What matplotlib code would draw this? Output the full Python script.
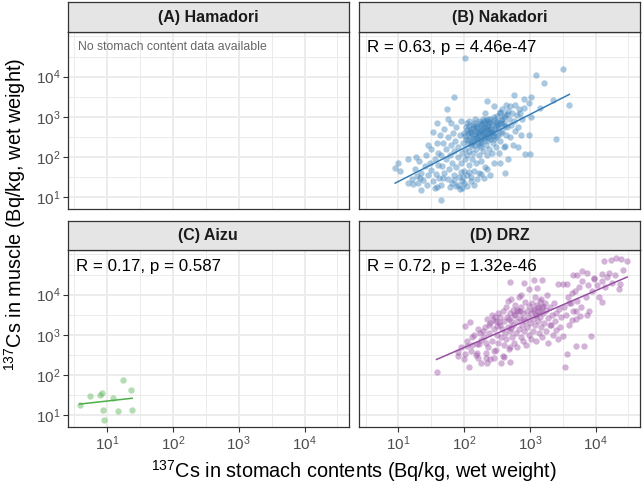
import numpy as np
import matplotlib
matplotlib.use('Agg')
import matplotlib.pyplot as plt
from matplotlib.ticker import FixedLocator, NullFormatter

plt.rcParams['font.family'] = ['Liberation Sans', 'DejaVu Sans']
plt.rcParams['mathtext.fontset'] = 'custom'
plt.rcParams['mathtext.rm'] = 'Liberation Sans'
plt.rcParams['mathtext.it'] = 'Liberation Sans:italic'
plt.rcParams['mathtext.bf'] = 'Liberation Sans:bold'

## DATA  (log10 Bq/kg wet weight: (stomach contents, muscle))
hamadori = []

aizu = [(0.585, 1.258), (0.747, 1.475), (0.898, 1.49), (0.929, 1.54), (0.934, 1.13),
        (0.955, 0.88), (1.095, 1.43), (1.17, 1.10), (1.24, 1.87), (1.364, 1.625),
        (1.383, 1.117)]

nakadori_outer = [(2.02, 4.46), (3.50, 4.18), (3.09, 4.03), (3.21, 3.83), (3.60, 3.29),
                  (3.35, 3.43), (3.01, 3.50), (2.91, 3.44), (2.76, 3.54), (2.98, 3.35),
                  (2.91, 3.21), (3.15, 3.21), (3.01, 3.00), (3.39, 2.45), (2.99, 2.54),
                  (3.00, 2.08), (2.92, 2.07), (2.82, 2.24), (2.62, 2.27), (2.62, 1.60),
                  (1.85, 3.50), (1.74, 3.20), (1.64, 0.93), (0.95, 1.72), (1.00, 1.84),
                  (1.03, 1.64), (1.15, 1.35), (1.15, 1.94), (1.59, 1.26), (1.97, 1.22),
                  (1.58, 2.85), (1.53, 2.63), (2.32, 3.10), (2.45, 3.26), (2.35, 3.39),
                  (2.55, 3.12), (2.65, 3.08)]

nakadori_left = [(1.20, 1.45), (1.25, 1.70), (1.28, 1.52), (1.30, 1.35), (1.32, 1.90),
                 (1.35, 1.60), (1.38, 1.42), (1.40, 1.78), (1.42, 2.05), (1.44, 1.30),
                 (1.45, 1.55), (1.48, 1.85), (1.50, 2.20), (1.50, 1.68), (1.52, 1.40),
                 (1.55, 1.95), (1.55, 1.22), (1.57, 1.58), (1.58, 2.35), (1.60, 1.80),
                 (1.60, 2.10), (1.62, 1.48), (1.22, 1.32), (1.27, 2.00), (1.35, 1.18),
                 (1.45, 2.30), (1.65, 1.30), (1.33, 1.48),
                 (1.63, 2.55), (1.65, 2.05), (1.66, 1.78), (1.68, 2.35), (1.70, 1.60),
                 (1.70, 2.70), (1.72, 1.95), (1.73, 2.20), (1.75, 1.45), (1.75, 2.50),
                 (1.77, 1.70), (1.78, 2.05), (1.80, 2.85), (1.80, 2.30), (1.81, 1.85),
                 (1.82, 1.35), (1.83, 2.60), (1.85, 1.55), (1.85, 2.15), (1.86, 2.40),
                 (1.88, 1.75), (1.88, 2.75), (1.90, 1.30), (1.90, 2.00), (1.91, 2.25),
                 (1.92, 1.50), (1.93, 2.55), (1.95, 1.85), (1.95, 2.90), (1.96, 1.40),
                 (1.97, 2.10), (1.98, 2.35), (1.99, 1.65), (2.00, 2.60), (1.87, 1.28),
                 (1.78, 1.25), (1.93, 1.20), (1.84, 1.42), (1.76, 2.95), (1.68, 1.48),
                 (2.00, 1.35), (2.05, 1.28), (2.10, 1.50), (2.15, 1.30), (1.98, 1.50),
                 (2.08, 1.62), (2.20, 1.45), (2.25, 1.58), (2.30, 1.48), (2.35, 1.70),
                 (1.95, 1.62)]

nakadori_core = [(2.01, 1.95), (2.02, 2.20), (2.03, 2.45), (2.03, 2.75), (2.04, 1.55),
                 (2.05, 2.05), (2.06, 2.35), (2.06, 2.60), (2.07, 1.80), (2.08, 2.90),
                 (2.08, 2.15), (2.09, 2.50), (2.10, 2.70), (2.10, 1.40), (2.11, 2.28),
                 (2.12, 1.95), (2.12, 2.55), (2.13, 2.80), (2.14, 2.10), (2.15, 2.40),
                 (2.15, 1.65), (2.16, 2.65), (2.17, 2.95), (2.18, 2.20), (2.18, 1.85),
                 (2.19, 2.50), (2.20, 2.75), (2.21, 2.35), (2.22, 2.05), (2.22, 2.60),
                 (2.23, 1.60), (2.24, 2.85), (2.25, 2.45), (2.25, 2.25), (2.26, 1.90),
                 (2.27, 2.68), (2.28, 2.55), (2.29, 2.15), (2.30, 2.90), (2.30, 2.40),
                 (2.31, 1.75), (2.32, 2.62), (2.33, 2.30), (2.34, 2.78), (2.35, 2.05),
                 (2.36, 2.50), (2.37, 2.95), (2.38, 2.20), (2.39, 2.70), (2.40, 1.55),
                 (2.40, 2.45), (2.41, 2.85), (2.42, 2.10), (2.43, 2.60), (2.44, 2.35),
                 (2.45, 3.00), (2.46, 1.85), (2.47, 2.72), (2.48, 2.50), (2.49, 2.25),
                 (2.50, 2.88), (2.05, 2.85), (2.14, 2.72), (2.26, 2.80), (2.35, 2.68),
                 (2.20, 2.62), (2.28, 2.72), (2.12, 2.38), (2.32, 2.52), (2.18, 2.48),
                 (2.40, 2.58), (2.24, 2.30),
                 (2.02, 2.52), (2.04, 2.68), (2.06, 2.42), (2.08, 2.78), (2.10, 2.32),
                 (2.11, 2.62), (2.13, 2.48), (2.15, 2.85), (2.16, 2.30), (2.17, 2.58),
                 (2.19, 2.72), (2.21, 2.45), (2.22, 2.90), (2.23, 2.55), (2.25, 2.68),
                 (2.26, 2.38), (2.27, 2.82), (2.29, 2.60), (2.30, 2.48), (2.31, 2.75),
                 (2.33, 2.92), (2.34, 2.58), (2.36, 2.82), (2.37, 2.42), (2.38, 2.65),
                 (2.40, 2.95), (2.41, 2.70), (2.43, 2.80), (2.44, 2.52), (2.46, 2.92),
                 (2.47, 2.62), (2.49, 2.78), (2.50, 3.02), (2.52, 2.72), (2.54, 2.85),
                 (2.56, 2.60), (2.58, 2.95), (2.60, 3.00), (2.62, 2.78), (2.45, 2.45),
                 (2.38, 2.88), (2.28, 2.95), (2.18, 2.78), (2.09, 2.62), (2.24, 2.62),
                 (2.34, 2.72), (2.42, 2.62), (2.48, 2.88), (2.57, 2.82), (2.32, 2.85)]

nakadori_right = [(2.51, 2.55), (2.52, 2.80), (2.53, 2.10), (2.54, 3.10), (2.55, 2.40),
                  (2.56, 2.93), (2.57, 2.65), (2.58, 3.20), (2.60, 2.25), (2.60, 2.85),
                  (2.62, 3.05), (2.63, 2.55), (2.65, 2.75), (2.66, 1.95), (2.67, 3.15),
                  (2.68, 2.95), (2.70, 2.50), (2.72, 2.80), (2.73, 3.10), (2.75, 2.30),
                  (2.76, 2.90), (2.78, 2.65), (2.80, 3.05), (2.82, 2.75), (2.84, 3.20),
                  (2.86, 2.55), (2.88, 2.95), (2.70, 3.27), (2.78, 3.30), (2.55, 1.85),
                  (2.85, 3.10), (2.64, 3.30)]

drz_outer = [(1.58, 2.08), (1.90, 2.48), (1.91, 2.56), (2.02, 2.53), (2.01, 3.21),
             (2.09, 3.33), (2.21, 3.14), (2.70, 4.31), (2.91, 4.29), (3.06, 4.36),
             (3.19, 4.36), (2.99, 4.14), (2.87, 4.00), (3.11, 4.17), (3.26, 3.98),
             (3.43, 4.27), (3.51, 4.27), (3.56, 4.27), (3.65, 4.50), (3.71, 4.50),
             (3.79, 4.58), (3.87, 4.54), (3.97, 4.42), (4.09, 4.52), (4.21, 4.54),
             (4.13, 4.83), (4.23, 4.86), (4.31, 4.92), (4.39, 4.89), (4.48, 4.84),
             (4.37, 4.27), (4.09, 3.82), (3.93, 2.96), (3.70, 2.73), (3.82, 2.71),
             (3.57, 2.52), (3.53, 2.21), (3.51, 2.98), (3.40, 3.13), (3.64, 3.38),
             (3.76, 3.46), (3.87, 3.50), (3.70, 3.58), (3.64, 4.04), (3.59, 3.79),
             (3.31, 3.25), (3.17, 3.88), (2.69, 2.69), (2.59, 2.46), (2.69, 2.33),
             (2.60, 2.44), (2.48, 2.63), (2.45, 2.42), (2.33, 2.42), (2.21, 2.42),
             (2.20, 2.54), (2.05, 2.71), (2.12, 2.75), (2.22, 2.77), (2.33, 2.79)]

drz_core = [(2.30, 2.95), (2.32, 3.20), (2.35, 3.40), (2.36, 2.70), (2.38, 3.05),
            (2.40, 3.30), (2.42, 2.85), (2.43, 3.50), (2.45, 3.15), (2.46, 2.60),
            (2.48, 3.35), (2.50, 3.00), (2.51, 3.55), (2.52, 2.80), (2.54, 3.25),
            (2.55, 3.45), (2.56, 2.95), (2.58, 3.15), (2.59, 3.60), (2.60, 2.75),
            (2.38, 3.25), (2.44, 3.38), (2.50, 3.22), (2.47, 3.45), (2.53, 3.32),
            (2.28, 3.10), (2.25, 2.88), (2.33, 2.55),
            (2.61, 3.35), (2.62, 3.05), (2.63, 3.70), (2.64, 2.90), (2.65, 3.45),
            (2.66, 3.20), (2.67, 3.85), (2.68, 2.65), (2.69, 3.55), (2.70, 3.10),
            (2.71, 3.35), (2.72, 3.90), (2.73, 2.95), (2.74, 3.62), (2.75, 3.25),
            (2.76, 2.80), (2.77, 3.48), (2.78, 3.75), (2.79, 3.05), (2.80, 3.35),
            (2.81, 2.70), (2.82, 3.60), (2.83, 3.15), (2.84, 3.95), (2.85, 3.42),
            (2.86, 2.95), (2.87, 3.70), (2.88, 3.25), (2.89, 2.85), (2.90, 3.55),
            (2.91, 3.10), (2.92, 3.82), (2.93, 3.35), (2.94, 2.75), (2.95, 3.60),
            (2.96, 3.20), (2.97, 3.45), (2.98, 3.00), (2.99, 3.72), (2.68, 3.40),
            (2.76, 3.50), (2.85, 3.58), (2.72, 3.18), (2.80, 3.62), (2.90, 3.40),
            (3.00, 3.30), (3.01, 3.55), (3.02, 2.90), (3.03, 3.80), (3.04, 3.40),
            (3.05, 3.10), (3.06, 3.65), (3.07, 3.95), (3.08, 3.25), (3.09, 3.50),
            (3.10, 2.85), (3.11, 3.75), (3.12, 3.35), (3.13, 3.60), (3.14, 3.05),
            (3.15, 3.85), (3.16, 3.45), (3.17, 3.20), (3.18, 3.70), (3.19, 2.95),
            (3.20, 3.55), (3.22, 3.30), (3.23, 3.78), (3.24, 3.10), (3.25, 3.62),
            (3.27, 3.42), (3.28, 2.80), (3.30, 3.68), (3.32, 3.25), (3.33, 3.50),
            (3.35, 3.00), (3.36, 3.80), (3.38, 3.35), (3.40, 3.55), (3.42, 2.90),
            (3.44, 3.65), (3.46, 3.20), (3.48, 3.45), (3.05, 3.62), (3.12, 3.68),
            (3.20, 3.72), (3.15, 3.58), (3.10, 3.48),
            (3.52, 3.70), (3.55, 3.50), (3.58, 3.95), (3.60, 3.25), (3.62, 3.80),
            (3.65, 3.60), (3.68, 4.10), (3.70, 3.40), (3.72, 3.85), (3.75, 4.20),
            (3.78, 3.70), (3.80, 4.35), (3.85, 3.95), (3.88, 4.25), (3.90, 3.60),
            (3.95, 4.10), (3.98, 4.40),
            (4.02, 4.25), (4.05, 3.95), (4.10, 4.35), (4.15, 4.20), (4.18, 4.45),
            (4.25, 4.30), (4.30, 4.50), (4.35, 4.15), (4.42, 4.60),
            (2.05, 2.85), (2.10, 2.60), (2.15, 3.00), (2.18, 2.50), (2.20, 2.78),
            (2.24, 3.05), (2.12, 2.95), (1.95, 2.70), (2.00, 2.40), (2.08, 2.20),
            (2.26, 2.30), (2.40, 2.40), (2.35, 2.30), (2.56, 2.30)]

panel_titles = ['(A) Hamadori', '(B) Nakadori', '(C) Aizu', '(D) DRZ']
panel_data = [hamadori,
              nakadori_outer + nakadori_left + nakadori_core + nakadori_right,
              aizu,
              drz_outer + drz_core]
panel_colors = ['#E41A1C', '#377EB8', '#4DAF4A', '#984EA3']
panel_notes = ['No stomach content data available', 'R = 0.63, p = 4.46e-47',
               'R = 0.17, p = 0.587', 'R = 0.72, p = 1.32e-46']
tick_values = [1e1, 1e2, 1e3, 1e4]
tick_labels = ['$10^{1}$', '$10^{2}$', '$10^{3}$', '$10^{4}$']

## LAYOUT (pixels of a 642x486 figure)
W, H = 642, 486
col_x = [(67.5, 349), (359, 640)]
row_y = [(2, 32, 209), (221, 250, 427)]   # strip top, panel top, panel bottom

fig = plt.figure(figsize=(6.42, 4.86), dpi=100)

for i in range(4):
    r, c = divmod(i, 2)
    x0, x1 = col_x[c]
    s0, p0, p1 = row_y[r]
    ax = fig.add_axes([x0 / W, 1 - p1 / H, (x1 - x0) / W, (p1 - p0) / H])
    st = fig.add_axes([x0 / W, 1 - p0 / H, (x1 - x0) / W, (p0 - s0) / H])

    # strip
    st.set_facecolor('#E5E5E5')
    st.set_xticks([])
    st.set_yticks([])
    for sp in st.spines.values():
        sp.set_color('#333333')
        sp.set_linewidth(0.9)
    st.text(0.5, 0.5, panel_titles[i], transform=st.transAxes, ha='center', va='center',
            fontsize=11.5, fontweight='bold', color='#1A1A1A')

    # panel
    ax.set_xscale('log')
    ax.set_yscale('log')
    ax.set_xlim(10 ** 0.40, 10 ** 4.675)
    ax.set_ylim(10 ** 0.705, 10 ** 5.11)
    ax.xaxis.set_major_locator(FixedLocator(tick_values))
    ax.yaxis.set_major_locator(FixedLocator(tick_values))
    ax.xaxis.set_minor_locator(FixedLocator([10 ** (k + 0.5) for k in range(0, 5)]))
    ax.yaxis.set_minor_locator(FixedLocator([10 ** (k + 0.5) for k in range(1, 5)] + [1e5]))
    ax.xaxis.set_minor_formatter(NullFormatter())
    ax.yaxis.set_minor_formatter(NullFormatter())
    ax.grid(which='major', color='#EBEBEB', linewidth=1.3)
    ax.grid(which='minor', color='#EBEBEB', linewidth=0.7)
    ax.set_axisbelow(True)
    ax.tick_params(which='minor', length=0)
    ax.tick_params(which='major', length=3.6, width=0.8, color='#333333',
                   labelcolor='#4D4D4D', labelsize=11)
    ax.tick_params(axis='x', pad=2)
    ax.tick_params(axis='y', pad=1.5)
    for sp in ax.spines.values():
        sp.set_color('#333333')
        sp.set_linewidth(0.9)

    if r == 1:
        ax.set_xticklabels(tick_labels)
    else:
        ax.tick_params(axis='x', which='major', length=0, labelbottom=False)
    if c == 0:
        ax.set_yticklabels(tick_labels)
    else:
        ax.tick_params(axis='y', which='major', length=0, labelleft=False)

    pts = np.array(panel_data[i])
    if len(pts):
        lx, ly = pts[:, 0], pts[:, 1]
        ax.scatter(10 ** lx, 10 ** ly, s=21, color=panel_colors[i], alpha=0.42,
                   linewidths=0, zorder=3)
        k, b = np.polyfit(lx, ly, 1)
        xs = np.array([lx.min(), lx.max()])
        ax.plot(10 ** xs, 10 ** (b + k * xs), color=panel_colors[i], lw=1.1, zorder=4)
        ax.text(8 / (x1 - x0), 1 - 16 / (p1 - p0), panel_notes[i], transform=ax.transAxes,
                ha='left', va='center', fontsize=12.2, color='black')
    else:
        ax.text(10 / (x1 - x0), 1 - 15 / (p1 - p0), panel_notes[i], transform=ax.transAxes,
                ha='left', va='center', fontsize=8.8, color='#666666')

fig.text(353.5 / W, 1 - 471 / H, r'$^{137}$Cs in stomach contents (Bq/kg, wet weight)',
         ha='center', va='center', fontsize=14.3)
fig.text(15 / W, 1 - 214.5 / H, r'$^{137}$Cs in muscle (Bq/kg, wet weight)',
         ha='center', va='center', rotation=90, fontsize=14.3)

fig.savefig('out.png', dpi=100)
